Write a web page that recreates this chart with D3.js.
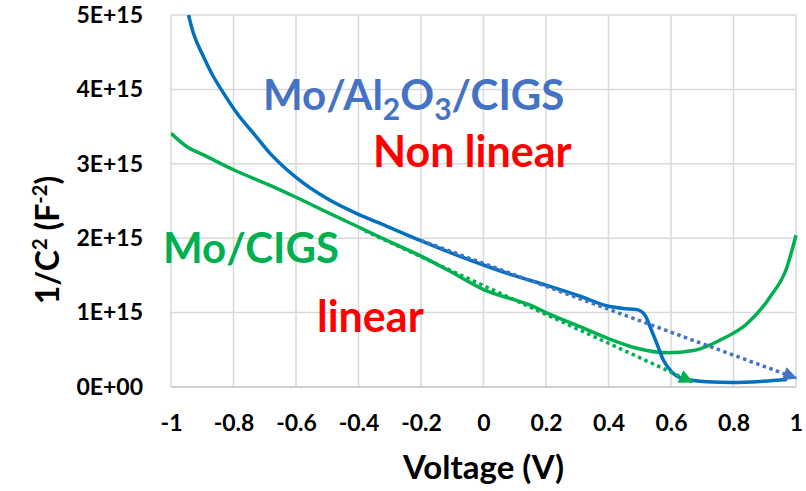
<!DOCTYPE html>
<html>
<head>
<meta charset="utf-8">
<script src="https://cdn.jsdelivr.net/npm/d3@7"></script>
<style>
  body { margin: 0; background: #fff; }
  svg text { font-family: Lato, "Open Sans", sans-serif; font-weight: bold; }
</style>
</head>
<body>
<div id="chart"></div>
<script>
// tick labels
const xTicks = [-1, -0.8, -0.6, -0.4, -0.2, 0, 0.2, 0.4, 0.6, 0.8, 1];
const xTickLabels = ["-1", "-0.8", "-0.6", "-0.4", "-0.2", "0", "0.2", "0.4", "0.6", "0.8", "1"];
const yTicks = [0, 1e15, 2e15, 3e15, 4e15, 5e15];
const yTickLabels = ["0E+00", "1E+15", "2E+15", "3E+15", "4E+15", "5E+15"];

// Mo/Al2O3/CIGS measured curve (V, 1/C^2)
const alVoltage = [-0.944, -0.928, -0.896, -0.864, -0.832, -0.789, -0.736, -0.683, -0.629, -0.576, -0.491, -0.405, -0.309, -0.203, -0.096, 0, 0.096, 0.2, 0.309, 0.4, 0.448, 0.491, 0.517, 0.533, 0.555, 0.576, 0.603, 0.64, 0.715, 0.8, 0.896, 0.971];
const alValue = [5.0e15, 4.75e15, 4.44e15, 4.17e15, 3.95e15, 3.68e15, 3.41e15, 3.14e15, 2.92e15, 2.74e15, 2.51e15, 2.33e15, 2.16e15, 1.97e15, 1.79e15, 1.64e15, 1.5e15, 1.37e15, 1.22e15, 1.085e15, 1.055e15, 1.04e15, 0.965e15, 0.81e15, 0.58e15, 0.36e15, 0.2e15, 0.11e15, 0.07e15, 0.06e15, 0.077e15, 0.1e15];

// Mo/CIGS measured curve
const moVoltage = [-1, -0.949, -0.896, -0.8, -0.683, -0.6, -0.501, -0.4, -0.299, -0.2, -0.096, 0, 0.1, 0.15, 0.2, 0.309, 0.4, 0.491, 0.587, 0.672, 0.757, 0.843, 0.917, 0.971, 1];
const moValue = [3.41e15, 3.23e15, 3.12e15, 2.92e15, 2.71e15, 2.55e15, 2.35e15, 2.15e15, 1.95e15, 1.76e15, 1.53e15, 1.31e15, 1.17e15, 1.1e15, 1.0e15, 0.81e15, 0.65e15, 0.52e15, 0.46e15, 0.49e15, 0.63e15, 0.85e15, 1.21e15, 1.61e15, 2.04e15];

// linear extrapolations (dotted arrows)
const alFitVoltage = [-0.2, 1];
const alFitValue = [1.97e15, 0.12e15];
const moFitVoltage = [-0.38, 0.667];
const moFitValue = [2.1e15, 0.07e15];

const width = 806, height = 491;
const margin = { left: 171, right: 10, top: 15, bottom: 104 };

const svg = d3.select("#chart").append("svg")
  .attr("width", width).attr("height", height);

const x = d3.scaleLinear().domain([-1, 1]).range([margin.left, width - margin.right]);
const y = d3.scaleLinear().domain([0, 5e15]).range([height - margin.bottom, margin.top]);

// gridlines
svg.append("g").attr("class", "grid-x")
  .selectAll("line").data(xTicks).enter().append("line")
  .attr("x1", d => x(d)).attr("x2", d => x(d))
  .attr("y1", y(0)).attr("y2", y(5e15))
  .attr("stroke", "#d9d9d9").attr("stroke-width", 1.5);

svg.append("g").attr("class", "grid-y")
  .selectAll("line").data(yTicks).enter().append("line")
  .attr("x1", x(-1)).attr("x2", x(1))
  .attr("y1", d => y(d)).attr("y2", d => y(d))
  .attr("stroke", d => d === 0 ? "#bfbfbf" : "#d9d9d9").attr("stroke-width", 1.5);

// axes (labels only, Excel style)
const xAxis = svg.append("g")
  .attr("transform", `translate(0, ${y(0)})`)
  .call(d3.axisBottom(x).tickValues(xTicks).tickSize(0).tickPadding(28)
    .tickFormat((d, i) => xTickLabels[i]));
xAxis.select(".domain").remove();
xAxis.selectAll("text").attr("font-size", 23).attr("fill", "#000")
  .style("font-family", "Lato, sans-serif");

const yAxis = svg.append("g")
  .attr("transform", `translate(${x(-1)}, 0)`)
  .call(d3.axisLeft(y).tickValues(yTicks).tickSize(0).tickPadding(28)
    .tickFormat((d, i) => yTickLabels[i]));
yAxis.select(".domain").remove();
yAxis.selectAll("text").attr("font-size", 23).attr("fill", "#000")
  .style("font-family", "Lato, sans-serif");

// clip to plot area
svg.append("clipPath").attr("id", "plotClip")
  .append("rect").attr("x", x(-1)).attr("y", y(5e15))
  .attr("width", x(1) - x(-1) + 2).attr("height", y(0) - y(5e15));

// arrow markers
const defs = svg.append("defs");
[["arrowBlue", "#4472C4"], ["arrowGreen", "#00B050"]].forEach(([id, c]) => {
  defs.append("marker").attr("id", id)
    .attr("viewBox", "0 0 10 10").attr("refX", 9).attr("refY", 5)
    .attr("markerUnits", "userSpaceOnUse")
    .attr("markerWidth", 17).attr("markerHeight", 14)
    .attr("orient", "auto")
    .append("path").attr("d", "M0,0 L10,5 L0,10 Z").attr("fill", c);
});

const line = d3.line().x(d => x(d[0])).y(d => y(d[1])).curve(d3.curveMonotoneX);
const plot = svg.append("g").attr("clip-path", "url(#plotClip)");

plot.append("path").datum(d3.zip(moVoltage, moValue))
  .attr("d", line).attr("fill", "none")
  .attr("stroke", "#00B050").attr("stroke-width", 3.5);

plot.append("path").datum(d3.zip(alVoltage, alValue))
  .attr("d", line).attr("fill", "none")
  .attr("stroke", "#0070C0").attr("stroke-width", 3.5);

svg.append("path").datum(d3.zip(moFitVoltage, moFitValue))
  .attr("d", d3.line().x(d => x(d[0])).y(d => y(d[1])))
  .attr("fill", "none").attr("stroke", "#00B050").attr("stroke-width", 3.5)
  .attr("stroke-dasharray", "3.5,3.5").attr("marker-end", "url(#arrowGreen)");

svg.append("path").datum(d3.zip(alFitVoltage, alFitValue))
  .attr("d", d3.line().x(d => x(d[0])).y(d => y(d[1])))
  .attr("fill", "none").attr("stroke", "#4472C4").attr("stroke-width", 3.5)
  .attr("stroke-dasharray", "3.5,3.5").attr("marker-end", "url(#arrowBlue)");

// axis titles
svg.append("text").attr("x", x(0)).attr("y", 479)
  .attr("text-anchor", "middle").attr("font-size", 33).attr("fill", "#000")
  .text("Voltage (V)");

const yTitle = svg.append("text")
  .attr("transform", "translate(59, 240) rotate(-90)")
  .attr("text-anchor", "middle").attr("font-size", 32).attr("fill", "#000");
yTitle.append("tspan").text("1/C");
yTitle.append("tspan").attr("font-size", 20).attr("dy", -12).text("2");
yTitle.append("tspan").attr("dy", 12).text(" (F");
yTitle.append("tspan").attr("font-size", 20).attr("dy", -12).text("-2");
yTitle.append("tspan").attr("dy", 12).text(")");

// annotations
const al = svg.append("text").attr("x", 263).attr("y", 110)
  .attr("font-size", 42).attr("fill", "#4472C4");
al.append("tspan").text("Mo/Al");
al.append("tspan").attr("font-size", 30).attr("dy", 10).text("2");
al.append("tspan").attr("dy", -10).text("O");
al.append("tspan").attr("font-size", 30).attr("dy", 10).text("3");
al.append("tspan").attr("dy", -10).text("/CIGS");

svg.append("text").attr("x", 373).attr("y", 167)
  .attr("font-size", 43).attr("fill", "#FF0000").text("Non linear");

svg.append("text").attr("x", 163).attr("y", 263)
  .attr("font-size", 42).attr("fill", "#00B050").text("Mo/CIGS");

svg.append("text").attr("x", 317).attr("y", 332)
  .attr("font-size", 43).attr("fill", "#FF0000").text("linear");
</script>
</body>
</html>
